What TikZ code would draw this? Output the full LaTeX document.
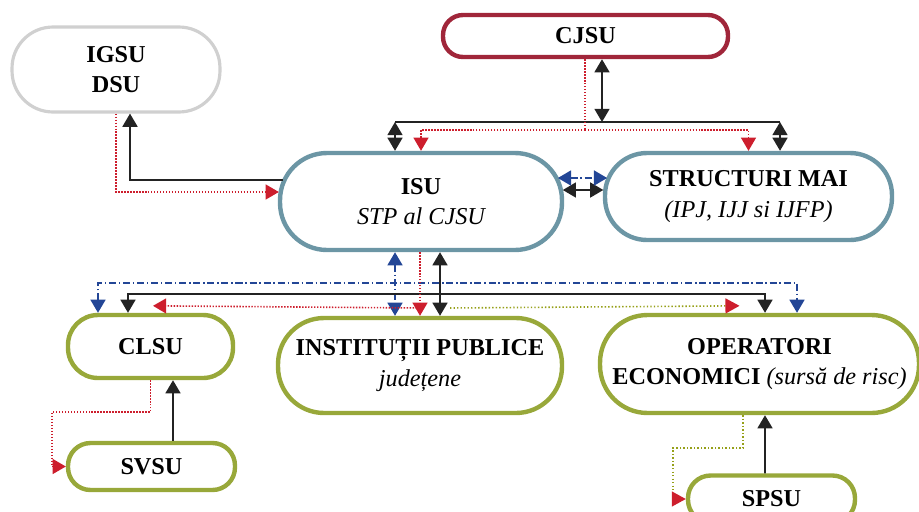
\documentclass[tikz,border=0pt]{standalone}
\usepackage{fontspec}
\setmainfont{Liberation Serif}
\usetikzlibrary{arrows, arrows.meta}
\usetikzlibrary{calc}

\definecolor{cjsured}{RGB}{160,38,58}
\definecolor{isuteal}{RGB}{108,150,165}
\definecolor{igsugray}{RGB}{208,208,208}
\definecolor{localgreen}{RGB}{152,168,58}
\definecolor{linkblue}{RGB}{35,70,150}
\definecolor{linkred}{RGB}{205,30,45}
\definecolor{linkolive}{RGB}{150,160,25}
\definecolor{linkblack}{RGB}{35,35,35}

\newcommand{\lightit}[1]{{\mdseries\itshape #1}}

\tikzset{
    box/.style = {draw, rectangle, rounded corners=#1, line width=2.5pt, fill=white, inner sep=1pt, align=center, font=\fontsize{13.8}{17.5}\selectfont\bfseries},
    blk/.style = {draw=linkblack, line width=1.1pt},
    redl/.style = {draw=linkred, line width=0.9pt, dash pattern=on 0.8pt off 0.9pt},
    bluel/.style = {draw=linkblue, line width=1.1pt, dash pattern=on 4pt off 1.6pt on 0.8pt off 1.6pt},
    olvl/.style = {draw=linkolive, line width=0.9pt, dash pattern=on 0.8pt off 1.2pt},
    redtip/.style = {-{Triangle[width=8.5pt, length=8pt, color=linkred]}},
    >={Triangle[width=8.5pt, length=7.5pt]},
}

\begin{document}
\begin{tikzpicture}[x=0.02cm, y=-0.02cm]
    \useasboundingbox (0,0) rectangle (919,511);
    \clip (0,0) rectangle (919,511);

    \node[box=0.82cm, draw=igsugray, line width=1.8pt, minimum width=4.16cm, minimum height=1.7cm] (igsu) at (116,69.5) {IGSU\\DSU};
    \node[box=0.4cm, draw=cjsured, minimum width=5.7cm, minimum height=0.84cm] (cjsu) at (585.5,36) {CJSU};
    \node[box=0.94cm, draw=isuteal, minimum width=5.64cm, minimum height=1.94cm] (isu) at (421,201.5) {ISU\\\lightit{STP al CJSU}};
    \node[box=0.84cm, draw=isuteal, minimum width=5.74cm, minimum height=1.74cm] (mai) at (748.5,196.5) {STRUCTURI MAI\\\lightit{(IPJ, IJJ si IJFP)}};
    \node[box=0.6cm, draw=localgreen, minimum width=3.3cm, minimum height=1.26cm] (clsu) at (150.5,346.5) {CLSU};
    \node[box=0.92cm, draw=localgreen, minimum width=5.68cm, minimum height=1.9cm] (inst) at (420,365.5) {INSTITUȚII PUBLICE\\\lightit{județene}};
    \node[box=0.95cm, draw=localgreen, minimum width=6.38cm, minimum height=1.96cm] (oper) at (759.5,364) {OPERATORI\\ECONOMICI \lightit{(sursă de risc)}};
    \node[box=0.45cm, draw=localgreen, minimum width=3.34cm, minimum height=0.94cm] (svsu) at (151.5,466.5) {SVSU};
    \node[box=0.45cm, draw=localgreen, minimum width=3.34cm, minimum height=0.94cm] (spsu) at (771.5,499) {SPSU};

    \draw[blk, ->] ($(isu.west)+(5,-21.5)$) -| ($(igsu.south)+(14,0)$);
    \draw[redl, ->] (igsu.south) |- ($(isu.west)+(1,-9.5)$);

    \coordinate (cjbus) at (602,122);
    \coordinate (isubus) at (395,122);
    \coordinate (maibus) at (780,122);
    \coordinate (redbus) at (585,130);
    \draw[blk] (isubus) -- (maibus);
    \draw[blk, <->] (cjbus |- cjsu.south) -- (cjbus);
    \draw[blk, <->] (isubus) -- (isubus |- isu.north);
    \draw[blk, <->] (maibus) -- (maibus |- mai.north);
    \draw[redl] (redbus |- cjsu.south) -- (redbus);
    \draw[redl, ->] (redbus) -| (isu.north);
    \draw[redl, ->] (redbus) -| (mai.north);

    \draw[blk, <->] ($(isu.east)+(-1.4,-11.5)$) -- ($(mai.west)+(0.5,-6.5)$);
    \draw[bluel, <->] ($(isu.east)+(-6.3,-23.5)$) -- ($(mai.west)+(4.3,-18.5)$);

    \coordinate (bluemid) at (395,283);
    \coordinate (bluew) at (98,283);
    \coordinate (bluee) at (797,283);
    \coordinate (blackmid) at (440,294);
    \coordinate (blackw) at (128,294);
    \coordinate (blacke) at (765,294);
    \coordinate (redmid) at (420,308);
    \draw[bluel, <->] (bluemid |- isu.south) -- (bluemid |- inst.north);
    \draw[bluel, <->] (bluew |- clsu.north) -- (bluew) -- (bluee) -- (bluee |- oper.north);
    \draw[blk, <->] (blackmid |- isu.south) -- (blackmid |- inst.north);
    \draw[blk, <->] (blackw |- clsu.north) -- (blackw) -- (blacke) -- (blacke |- oper.north);
    \draw[redl, ->] (redmid |- isu.south) -- (redmid |- inst.north);
    \draw[redl, ->] (redmid) -- ($(clsu.north)+(2.5,-7)$);
    \draw[olvl, redtip] ($(redmid)+(30,0)$) -- ($(oper.north)+(-20,-7)$);

    \draw[blk, ->] ($(svsu.north)+(21.5,0)$) -- ($(clsu.south)+(22.5,0)$);
    \draw[redl, ->] (clsu.south) -- ++(0,32) -| ($(svsu.west)+(-14,0)$) -- (svsu.west);

    \draw[blk, ->] ($(spsu.north)+(-6.5,0)$) -- ($(oper.south)+(5.5,0)$);
    \draw[olvl, redtip] ($(oper.south)+(-16.5,0)$) -- ++(0,33) -| ($(spsu.west)+(-13,0)$) -- (spsu.west);
\end{tikzpicture}
\end{document}
